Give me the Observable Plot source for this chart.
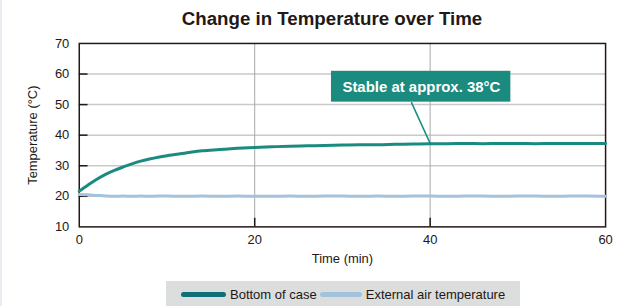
<!DOCTYPE html>
<html><head><meta charset="utf-8">
<script src="https://cdn.jsdelivr.net/npm/d3@7"></script>
<script src="https://cdn.jsdelivr.net/npm/@observablehq/plot@0.6"></script>
<style>
body{margin:0;background:#fff;font-family:"Liberation Sans",Arial,sans-serif;}
#wrap{position:relative;width:637px;height:306px;overflow:hidden;background:#fff;border-left:2px solid #ebebf2;box-sizing:border-box;}
#title{position:absolute;left:5px;top:8px;width:650px;text-align:center;font-size:18.7px;font-weight:bold;color:#231815;}
#chart{position:absolute;left:-2px;top:32px;}
#legend{position:absolute;left:164px;top:281px;width:354px;height:26px;background:#dcdddd;display:flex;align-items:center;font-size:13px;color:#231815;}
.sw{display:inline-block;height:5px;border-radius:3px;margin-right:4px;}
</style></head><body>
<div id="wrap">
<div id="title">Change in Temperature over Time</div>
<div id="chart"></div>
<div id="legend"></div>
</div>
<script>
const minutes = [0,1,2,3,4,5,6,7,8,9,10,12,14,16,18,20,22,24,26,28,30,32,34,36,38,40,42,44,46,48,50,52,54,56,58,60];
const bottomOfCase = [21.7,23.7,25.6,27.2,28.5,29.6,30.6,31.5,32.2,32.8,33.3,34.1,34.9,35.3,35.7,36.0,36.2,36.4,36.5,36.6,36.8,36.9,36.9,37.0,37.1,37.2,37.2,37.3,37.2,37.3,37.3,37.2,37.3,37.3,37.3,37.3];
const externalAir = [20.6,20.5,20.3,20.1,20.0,20.1,20.0,20.1,20.0,20.1,20.1,20.0,20.1,20.0,20.1,20.0,20.0,20.1,20.0,20.1,20.1,20.0,20.1,20.0,20.1,20.1,20.0,20.1,20.1,20.0,20.1,20.1,20.0,20.1,20.1,20.0];
const xTicks = [0,20,40,60];
const yTicks = [10,20,30,40,50,60,70];
const seriesNames = ["Bottom of case","External air temperature"];
const seriesColors = ["#1b8a7f","#a3c2dc"];
const legendColors = ["#0f6e76","#a3c2dc"];
const noteText = ["Stable at approx. 38°C"];
const noteBox = [{x1:28.75,x2:49.2,y1:50.8,y2:60.9,cx:39.0,cy:55.8}];
const noteLeader = [{x1:37.85,y1:50.8,x2:40,y2:37.3}];

const rowsA = minutes.map((m,i)=>({m, v:bottomOfCase[i]}));
const rowsB = minutes.map((m,i)=>({m, v:externalAir[i]}));
const ink = "#231815";

const chart = Plot.plot({
  width: 639, height: 240,
  marginLeft: 79, marginRight: 32, marginTop: 11, marginBottom: 45,
  style: {fontFamily: '"Liberation Sans", Arial, sans-serif', fontSize: "13px", color: ink, background: "transparent"},
  x: {domain: [0,60], ticks: xTicks},
  y: {domain: [10,70], ticks: yTicks},
  marks: [
    Plot.ruleY(yTicks.slice(1,-1), {stroke: "#c9c9c9", strokeWidth: 1.5}),
    Plot.ruleX(xTicks.slice(1,-1), {stroke: "#a9a9a9", strokeWidth: 1}),
    Plot.ruleY(yTicks.slice(1,-1), {x1: 0, x2: 1, stroke: ink, strokeWidth: 1.5}),
    Plot.ruleX(xTicks.slice(1,-1), {y1: 10, y2: 12.8, stroke: ink, strokeWidth: 1.5}),
    Plot.frame({stroke: ink, strokeWidth: 1.5}),
    Plot.axisY({ticks: yTicks, tickSize: 0, tickPadding: 10, label: "Temperature (°C)", labelArrow: "none", labelAnchor: "center", labelOffset: 52, fontSize: 13, color: ink}),
    Plot.axisX({ticks: xTicks, tickSize: 0, tickPadding: 8, label: "Time (min)", labelArrow: "none", labelAnchor: "center", labelOffset: 36, fontSize: 13, color: ink}),
    Plot.line(rowsB, {x: "m", y: "v", stroke: seriesColors[1], strokeWidth: 3, curve: "monotone-x"}),
    Plot.line(rowsA, {x: "m", y: "v", stroke: seriesColors[0], strokeWidth: 3, curve: "monotone-x"}),
    Plot.link(noteLeader, {x1: "x1", y1: "y1", x2: "x2", y2: "y2", stroke: seriesColors[0], strokeWidth: 1.5}),
    Plot.rect(noteBox, {x1: "x1", x2: "x2", y1: "y1", y2: "y2", fill: seriesColors[0]}),
    Plot.text(noteBox, {x: "cx", y: "cy", text: () => noteText[0], fill: "white", fontWeight: "bold", fontSize: 15})
  ]
});
document.getElementById("chart").appendChild(chart);

const lg = document.getElementById("legend");
seriesNames.forEach((n,i)=>{
  const s = document.createElement("span");
  s.className = "sw";
  s.style.background = legendColors[i];
  s.style.width = i===0 ? "45px" : "42px";
  s.style.marginLeft = i===0 ? "15px" : "3px";
  lg.appendChild(s);
  const t = document.createElement("span");
  t.textContent = n;
  lg.appendChild(t);
});
</script>
</body></html>
